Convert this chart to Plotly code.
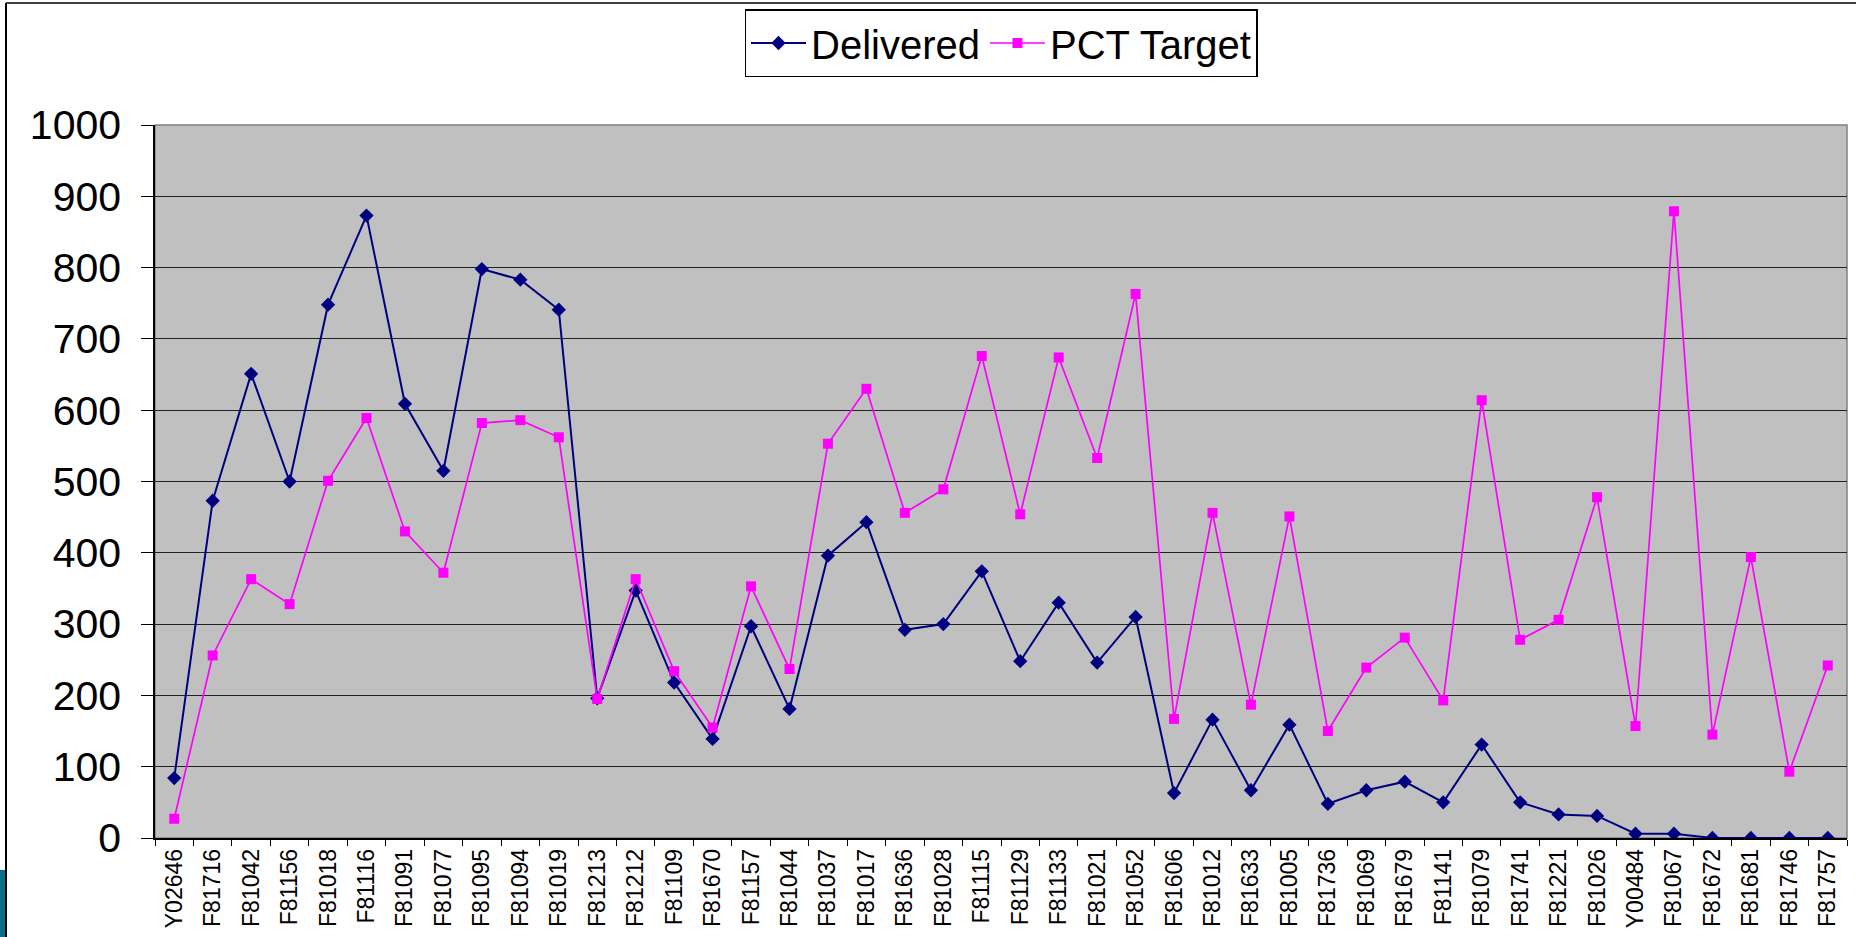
import plotly.graph_objects as go

categories = ["Y02646", "F81716", "F81042", "F81156", "F81018", "F81116", "F81091", "F81077",
              "F81095", "F81094", "F81019", "F81213", "F81212", "F81109", "F81670", "F81157",
              "F81044", "F81037", "F81017", "F81636", "F81028", "F81115", "F81129", "F81133",
              "F81021", "F81052", "F81606", "F81012", "F81633", "F81005", "F81736", "F81069",
              "F81679", "F81141", "F81079", "F81741", "F81221", "F81026", "Y00484", "F81067",
              "F81672", "F81681", "F81746", "F81757"]

delivered = [84, 473, 651, 500, 748, 873, 609, 515,
             798, 783, 741, 196, 347, 218, 139, 297,
             181, 396, 443, 292, 300, 374, 248, 330,
             246, 310, 63, 166, 67, 159, 48, 67,
             79, 50, 131, 50, 33, 31, 6, 6,
             0, 0, 0, 0]

pct_target = [27, 256, 363, 328, 501, 589, 430, 372,
              582, 586, 562, 195, 363, 234, 155, 353,
              237, 553, 630, 456, 489, 676, 454, 674,
              533, 763, 167, 456, 187, 451, 150, 239,
              281, 193, 614, 278, 306, 478, 157, 879,
              145, 394, 93, 242]

y_ticks = [0, 100, 200, 300, 400, 500, 600, 700, 800, 900, 1000]

W, H = 1856, 937
L, R, T, B = 155, 9, 125, 99
pw, ph = W - L - R, H - T - B


def px_x(x):
    return (x - L) / pw


def px_y(y):
    return (H - B - y) / ph


fig = go.Figure()
fig.add_trace(go.Scatter(
    x=categories, y=delivered, name="Delivered", mode="lines+markers",
    line=dict(color="#000080", width=2),
    marker=dict(symbol="diamond", size=11, color="#000080"),
))
fig.add_trace(go.Scatter(
    x=categories, y=pct_target, name="PCT Target", mode="lines+markers",
    line=dict(color="#FF00FF", width=1.7),
    marker=dict(symbol="square", size=10, color="#FF00FF"),
))

font_family = "Liberation Sans, Arial, sans-serif"

fig.update_layout(
    width=W, height=H,
    margin=dict(l=L, r=R, t=T, b=B, pad=0),
    paper_bgcolor="white",
    plot_bgcolor="#C0C0C0",
    font=dict(family=font_family, color="black"),
    showlegend=True,
    legend=dict(
        orientation="h", x=0.5, xanchor="center", y=px_y(9), yanchor="top",
        font=dict(size=40, family=font_family, color="black"),
        bgcolor="white", bordercolor="black", borderwidth=1.5,
        itemwidth=55, traceorder="normal",
    ),
    xaxis=dict(
        type="category", tickson="boundaries", ticks="outside", ticklen=6,
        tickcolor="black", tickwidth=1, tickangle=-90,
        tickfont=dict(size=23, family=font_family, color="black"),
        showline=True, linecolor="black", linewidth=1.5, showgrid=False,
        range=[-0.5, len(categories) - 0.5],
    ),
    yaxis=dict(
        range=[0, 1000], tickvals=y_ticks, ticks="outside", ticklen=12,
        tickcolor="black", tickwidth=1, ticklabelstandoff=12,
        tickfont=dict(size=41, family=font_family, color="black"),
        showline=True, linecolor="black", linewidth=1.5,
        showgrid=True, gridcolor="#222222", gridwidth=1, zeroline=False,
    ),
    shapes=[
        dict(type="rect", xref="paper", yref="paper", x0=0, x1=1, y0=0, y1=1,
             line=dict(color="#808080", width=1.5), layer="below"),
        dict(type="line", xref="paper", yref="paper", x0=px_x(6), x1=px_x(W), y0=px_y(3), y1=px_y(3),
             line=dict(color="black", width=1.5)),
        dict(type="line", xref="paper", yref="paper", x0=px_x(6), x1=px_x(6), y0=px_y(3), y1=px_y(H),
             line=dict(color="black", width=2)),
        dict(type="rect", xref="paper", yref="paper", x0=px_x(0), x1=px_x(5), y0=px_y(870), y1=px_y(H),
             fillcolor="#0B6E88", line=dict(width=0)),
    ],
)

fig.write_html("out.html", config={"displayModeBar": False},
               post_script="document.body.style.margin='0';document.body.style.overflow='hidden';")
